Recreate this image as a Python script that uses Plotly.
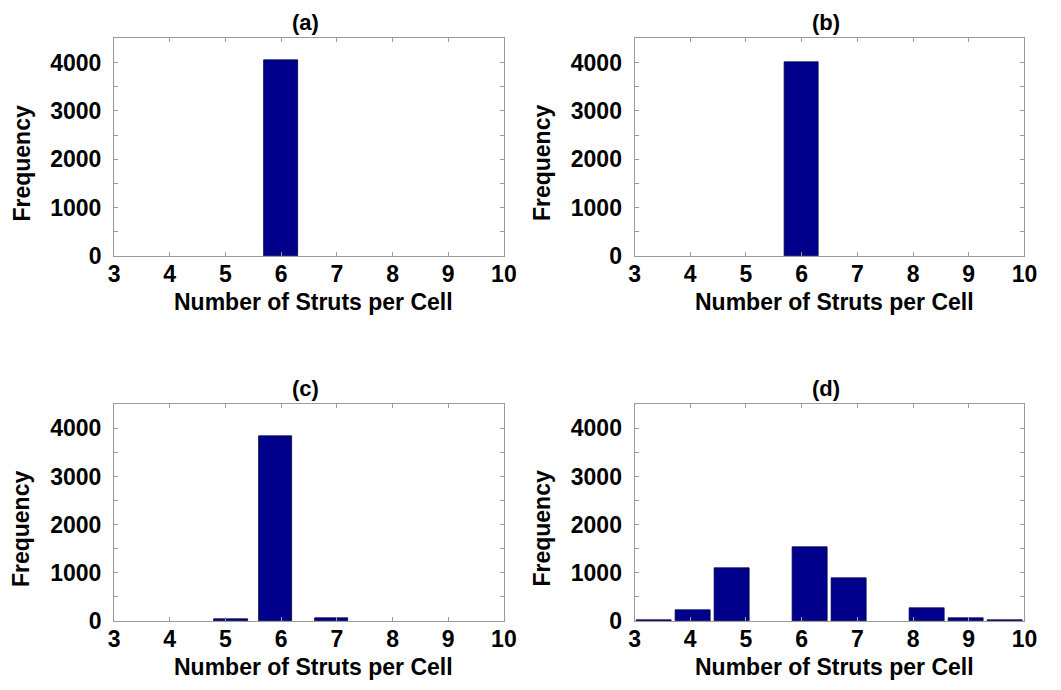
import plotly.graph_objects as go

# ---- data ----
panel_titles = ["(a)", "(b)", "(c)", "(d)"]
x_label = "Number of Struts per Cell"
y_label = "Frequency"
x_tick_vals = [3, 4, 5, 6, 7, 8, 9, 10]
y_tick_vals = [0, 1000, 2000, 3000, 4000]

a_centers = [6.0]
a_counts = [4055]

b_centers = [6.0]
b_counts = [4000]

c_centers = [5.1, 5.9, 6.9]
c_counts = [45, 3845, 60]

d_centers = [3.35, 4.05, 4.75, 5.45, 6.15, 6.85, 7.55, 8.25, 8.95, 9.65]
d_counts = [12, 222, 1090, 0, 1533, 890, 0, 268, 55, 8]

bar_widths = [0.6, 0.6, 0.6, 0.63]

# ---- layout helpers ----
W, H = 1061, 690
FONT = "Arial, Liberation Sans, sans-serif"
BAR = "#00008B"
AX = "#9a9a9a"

# pixel boxes of the four axes: (left, right, top, bottom)
boxes = [(110, 507, 39, 261), (640, 1037, 39, 261),
         (110, 507, 412, 633), (640, 1037, 412, 633)]

fig = go.Figure()
series = [(a_centers, a_counts), (b_centers, b_counts),
          (c_centers, c_counts), (d_centers, d_counts)]

layout = dict(
    width=W, height=H, margin=dict(l=0, r=0, t=0, b=0),
    paper_bgcolor="white", plot_bgcolor="white", showlegend=False,
    bargap=0, annotations=[],
)

for i, ((cx, cy), (l, r, t, b)) in enumerate(zip(series, boxes)):
    n = "" if i == 0 else str(i + 1)
    fig.add_trace(go.Bar(
        x=cx, y=cy, width=[bar_widths[i]] * len(cx),
        marker=dict(color=BAR, line=dict(
            color="#00004a", width=[0 if v == 0 else 0.8 for v in cy])),
        xaxis="x" + n, yaxis="y" + n,
    ))
    layout["xaxis" + n] = dict(
        domain=[l / W, r / W], anchor="y" + n, range=[3, 10],
        tickvals=x_tick_vals, ticks="inside", ticklen=4, tickcolor=AX,
        showline=True, linecolor=AX, linewidth=1, mirror="ticks",
        showgrid=False, zeroline=False,
        tickfont=dict(family=FONT, size=23, color="black", weight="bold"),
        ticklabelstandoff=-3,
    )
    layout["yaxis" + n] = dict(
        domain=[1 - b / H, 1 - t / H], anchor="x" + n, range=[0, 4500],
        tickvals=y_tick_vals, ticks="inside", ticklen=4, tickcolor=AX,
        minor=dict(dtick=500, tick0=0, ticks="inside", ticklen=4, tickcolor=AX),
        showline=True, linecolor=AX, linewidth=1, mirror="ticks",
        showgrid=False, zeroline=False,
        tickfont=dict(family=FONT, size=23, color="black", weight="bold"),
        ticklabelstandoff=7,
    )
    cxp = (l + r) / 2
    layout["annotations"].append(dict(
        text=panel_titles[i], xref="paper", yref="paper",
        x=(cxp - 4) / W, y=1 - (t - 16) / H, showarrow=False,
        xanchor="center", yanchor="middle",
        font=dict(family=FONT, size=22, color="black", weight="bold"),
    ))
    layout["annotations"].append(dict(
        text=x_label, xref="paper", yref="paper",
        x=(cxp + 5) / W, y=1 - (b + 47) / H, showarrow=False,
        xanchor="center", yanchor="middle",
        font=dict(family=FONT, size=23, color="black", weight="bold"),
    ))
    layout["annotations"].append(dict(
        text=y_label, xref="paper", yref="paper", textangle=-90,
        x=(l - 94) / W, y=1 - ((t + b) / 2 + 16) / H, showarrow=False,
        xanchor="center", yanchor="middle",
        font=dict(family=FONT, size=23, color="black", weight="bold"),
    ))

fig.update_layout(**layout)
fig.write_html("out.html")
